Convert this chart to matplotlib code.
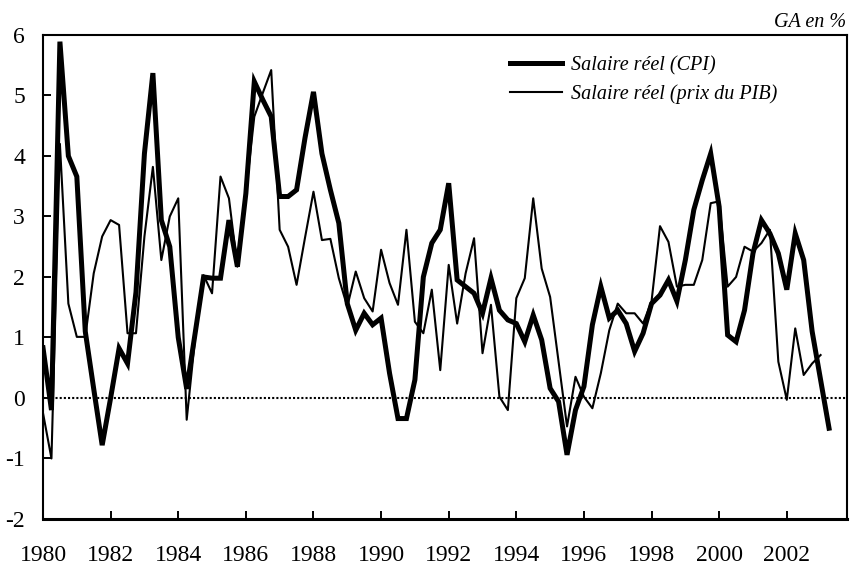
import numpy as np
import matplotlib
matplotlib.use("Agg")
import matplotlib.pyplot as plt

# croissance annuelle du salaire reel, donnees trimestrielles 1980T1 - 2003T2
start_year = 1980
salaire_cpi = [0.83, -0.2, 5.89, 4.0, 3.66, 1.1, 0.15, -0.78,
               0.0, 0.82, 0.57, 1.75, 4.04, 5.37, 2.94, 2.5,
               1.0, 0.15, 1.07, 2.0, 1.98, 1.98, 2.94, 2.17,
               3.38, 5.23, 4.93, 4.65, 3.33, 3.33, 3.44, 4.3,
               5.06, 4.04, 3.44, 2.89, 1.56, 1.12, 1.40, 1.21,
               1.32, 0.41, -0.34, -0.34, 0.30, 2.0, 2.56, 2.78,
               3.55, 1.95, 1.84, 1.73, 1.40, 1.98, 1.45, 1.29,
               1.23, 0.93, 1.37, 0.96, 0.16, -0.06, -0.94, -0.2,
               0.19, 1.21, 1.84, 1.32, 1.45, 1.23, 0.77, 1.07,
               1.56, 1.70, 1.95, 1.60, 2.28, 3.11, 3.6, 4.04,
               3.16, 1.04, 0.93, 1.45, 2.39, 2.94, 2.72, 2.39,
               1.79, 2.72, 2.28, 1.10, 0.30, -0.50]
salaire_pib = [-0.25, -1.0, 4.2, 1.56, 1.01, 1.01, 2.06, 2.67,
               2.94, 2.86, 1.07, 1.07, 2.67, 3.82, 2.28, 3.0,
               3.3, -0.36, 0.99, 2.03, 1.73, 3.66, 3.3, 2.17,
               3.38, 4.65, 5.04, 5.42, 2.78, 2.5, 1.87, 2.65,
               3.41, 2.61, 2.63, 1.98, 1.51, 2.09, 1.65, 1.43,
               2.45, 1.90, 1.54, 2.78, 1.26, 1.07, 1.79, 0.46,
               2.2, 1.23, 2.06, 2.64, 0.74, 1.54, 0.02, -0.2,
               1.65, 1.98, 3.30, 2.14, 1.67, 0.6, -0.47, 0.35,
               0.02, -0.17, 0.41, 1.12, 1.56, 1.40, 1.40, 1.23,
               1.60, 2.84, 2.58, 1.84, 1.87, 1.87, 2.28, 3.22,
               3.25, 1.84, 2.0, 2.5, 2.42, 2.56, 2.78, 0.6,
               -0.03, 1.15, 0.38, 0.57, 0.71]
labels = ["Salaire réel (CPI)", "Salaire réel (prix du PIB)"]
year_ticks = list(range(1980, 2003, 2))
y_ticks = list(range(-2, 7))

t_cpi = start_year + np.arange(len(salaire_cpi)) / 4
t_pib = start_year + np.arange(len(salaire_pib)) / 4

plt.rcParams["font.family"] = ["Liberation Serif", "DejaVu Serif"]

fig = plt.figure(figsize=(8.55, 5.67), dpi=100)
ax = fig.add_axes([0.0503, 0.0847, 0.9403, 0.8536])

ax.axhline(0, color="black", linestyle=(0, (1, 1)), linewidth=1.5, zorder=1)
ax.plot(t_cpi, salaire_cpi, color="black", linewidth=3.6, label=labels[0],
        solid_joinstyle="miter", zorder=3)
ax.plot(t_pib, salaire_pib, color="black", linewidth=1.5, label=labels[1], zorder=2)

ax.set_xlim(1980, 2003.78)
ax.set_ylim(-2, 6)
ax.set_xticks(year_ticks)
ax.set_xticklabels([str(y) for y in year_ticks])
ax.set_yticks(y_ticks)
ax.set_yticklabels([str(v) for v in y_ticks])

ax.tick_params(axis="both", direction="in", length=6, width=1.4,
               labelsize=17, color="black")
ax.tick_params(axis="x", pad=18.5)
ax.tick_params(axis="y", pad=13)
for side in ["top", "right", "left"]:
    ax.spines[side].set_linewidth(1.5)
ax.spines["bottom"].set_linewidth(2.2)

ax.legend(loc="upper left", bbox_to_anchor=(510 / 855, 1 - 56 / 567),
          bbox_transform=fig.transFigure, frameon=False,
          prop={"style": "italic", "size": 14.5}, handlelength=2.6,
          handletextpad=0.45, labelspacing=0.45, borderpad=0, borderaxespad=0)

fig.text(846 / 855, 1 - 27 / 567, "GA en %", ha="right", va="baseline",
         fontsize=14.5, style="italic")

fig.savefig("out.png", dpi=100)
